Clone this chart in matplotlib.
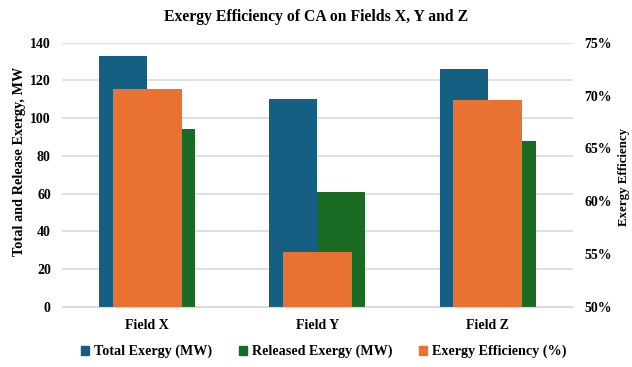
import numpy as np
import matplotlib
matplotlib.use("Agg")
import matplotlib.pyplot as plt
from matplotlib.patches import Patch
from matplotlib.ticker import FuncFormatter

fields = ["Field X", "Field Y", "Field Z"]
total_exergy = [133, 110, 126]
released_exergy = [94, 61, 88]
efficiency = [70.6, 55.2, 69.6]

blue = "#156082"
green = "#196B24"
orange = "#E97132"
grid_c = "#D9D9D9"

plt.rcParams["font.family"] = ["Liberation Serif", "DejaVu Serif"]
plt.rcParams["font.weight"] = "bold"

fig = plt.figure(figsize=(6.32, 3.67), dpi=100)
ax = fig.add_axes([0.098, 0.1643, 0.8085, 0.7193])
ax2 = ax.twinx()

x = np.arange(len(fields))
w = 0.282

ax.bar(x - w / 2, total_exergy, w, color=blue, zorder=2)
ax.bar(x + w / 2, released_exergy, w, color=green, zorder=2)
ax2.bar(x, efficiency, 0.405, color=orange, zorder=2)

ax.set_xlim(-0.5, 2.5)
ax.set_ylim(0, 140)
ax.set_yticks(range(0, 141, 20))
ax2.set_ylim(50, 75)
ax2.set_yticks(range(50, 76, 5))
ax2.yaxis.set_major_formatter(FuncFormatter(lambda v, p: f"{int(v)}%"))

ax.set_xticks(x)
ax.set_xticklabels(fields, fontsize=10, fontweight="bold")
ax.yaxis.grid(True, color=grid_c, linewidth=1.2, zorder=0)
ax.set_axisbelow(True)

for a in (ax, ax2):
    for s in a.spines.values():
        s.set_visible(False)
    a.tick_params(length=0, labelsize=10)
ax.spines["bottom"].set_visible(True)
ax.spines["bottom"].set_color(grid_c)
ax.tick_params(axis="y", pad=8)
ax.tick_params(axis="x", pad=9)
ax2.tick_params(axis="y", pad=8.5)
for lab in ax.get_yticklabels() + ax2.get_yticklabels():
    lab.set_fontweight("bold")

ax.set_ylabel("Total and Release Exergy, MW", fontsize=10.3, fontweight="bold",
              va="center")
ax.yaxis.set_label_coords(-0.084, 0.55)
ax2.set_ylabel("Exergy Efficiency", fontsize=9.3, fontweight="bold",
               va="center", rotation=90)
ax2.yaxis.set_label_coords(1.1, 0.49)

fig.suptitle("Exergy Efficiency of CA on Fields X, Y and Z", fontsize=11.3,
             fontweight="bold", y=0.975)

handles = [Patch(color=blue, label="Total Exergy (MW)"),
           Patch(color=green, label="Released Exergy (MW)"),
           Patch(color=orange, label="Exergy Efficiency (%)")]
fig.legend(handles=handles, loc="center", bbox_to_anchor=(0.512, 0.042), ncol=3,
           frameon=False, fontsize=10.2, handlelength=0.6, handleheight=0.6,
           handletextpad=0.3, columnspacing=1.9)

fig.savefig("out.png", dpi=100)
